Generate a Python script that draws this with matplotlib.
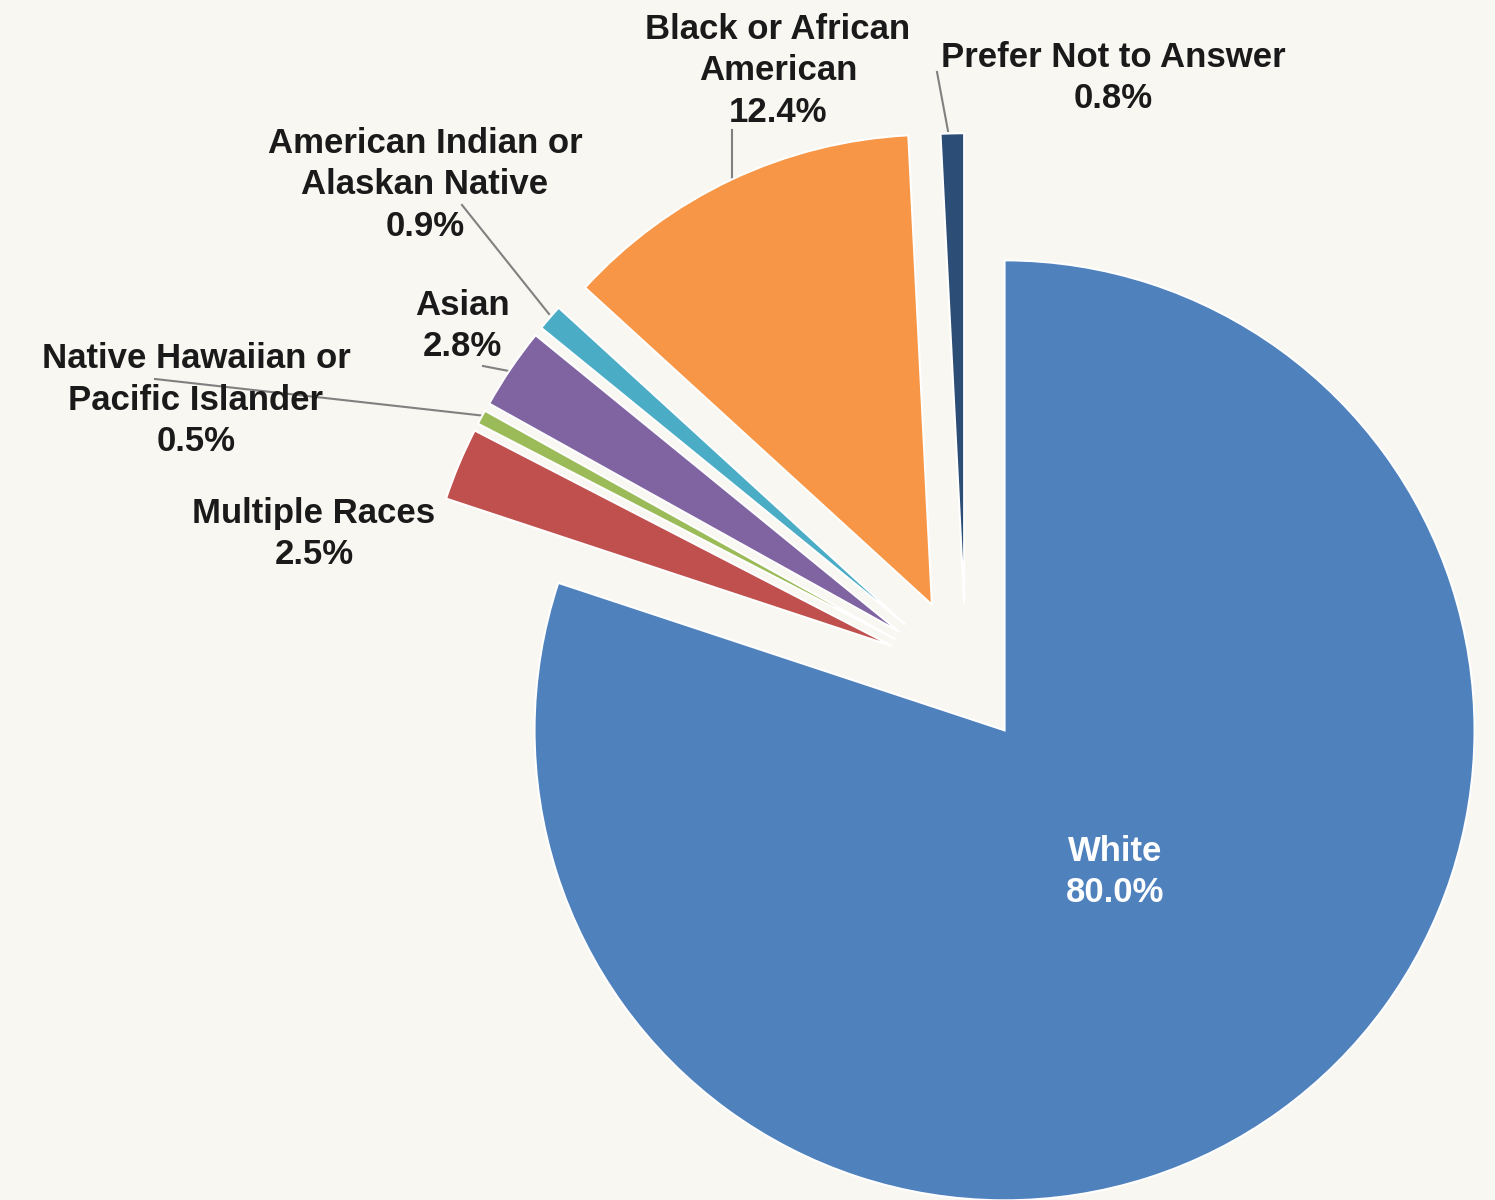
import matplotlib.pyplot as plt

# race / ethnicity breakdown
labels = ["White", "Multiple Races", "Native Hawaiian or\nPacific Islander", "Asian",
          "American Indian or\nAlaskan Native", "Black or African\nAmerican", "Prefer Not to Answer"]
values = [80.0, 2.5, 0.5, 2.8, 0.9, 12.4, 0.8]
colors = ["#4F81BD", "#C0504D", "#9BBB59", "#8064A2", "#4BACC6", "#F79646", "#2C4D75"]
explode = [0.14, 0.17, 0.17, 0.17, 0.17, 0.17, 0.157]

plt.rcParams['font.family'] = ['Liberation Sans', 'DejaVu Sans']

W, H = 1495, 1200
cx, cy, R = 966, 677, 470  # pie centre and radius in pixels


def px(x, y):
    return (x - cx) / R, (cy - y) / R


fig = plt.figure(figsize=(W / 100, H / 100), dpi=100, facecolor="#F8F7F1")
ax = fig.add_axes([0, 0, 1, 1])
ax.set_facecolor("#F8F7F1")

wedges, _ = ax.pie(values, colors=colors, explode=explode, startangle=90, counterclock=False,
                   radius=1, wedgeprops=dict(edgecolor="white", linewidth=1.5))

x0, y0 = px(0, H)
x1, y1 = px(W, 0)
ax.set_xlim(x0, x1)
ax.set_ylim(y0, y1)
ax.set_aspect("equal")
ax.axis("off")

# label text positions (centre of each block, pixels)
label_pos = [(1115, 872), (314, 534), (196, 400), (462, 326), (425, 185), (778, 71), (1113, 78)]

for lab, v, (lx, ly), i in zip(labels, values, label_pos, range(len(values))):
    col = "white" if i == 0 else "#1A1A1A"
    ax.text(*px(lx, ly), f"{lab}\n{v:.1f}%", ha="center", va="center", fontsize=25,
            fontweight="bold", color=col, linespacing=1.34)

# leader lines
leaders = [
    [(732, 130), (732, 181)],
    [(937, 72), (948, 131)],
    [(462, 205), (549, 314)],
    [(483, 366), (514, 372)],
    [(155, 379), (486, 416)],
]
for seg in leaders:
    xs, ys = zip(*[px(a, b) for a, b in seg])
    ax.plot(xs, ys, color="#808080", lw=1.5, zorder=0.5)

plt.savefig("out.png", dpi=100, facecolor=fig.get_facecolor())
